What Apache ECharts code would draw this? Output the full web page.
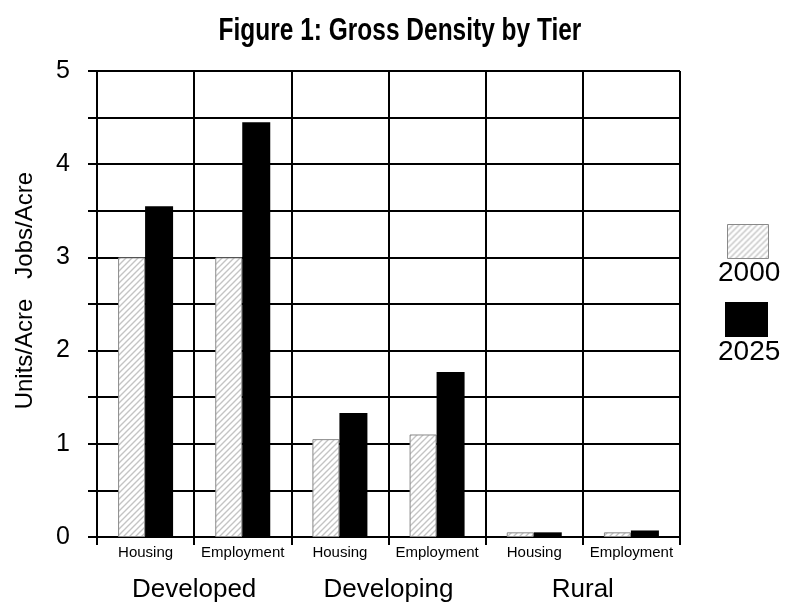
<!DOCTYPE html>
<html><head><meta charset="utf-8">
<script src="https://cdn.jsdelivr.net/npm/echarts@6/dist/echarts.min.js"></script>
<style>html,body{margin:0;padding:0;background:#fff}#c{width:800px;height:603px}</style>
</head><body><div id="c"></div>
<script>
const titleText = 'Figure 1: Gross Density by Tier';
const categories = ['Housing','Employment','Housing','Employment','Housing','Employment'];
const tiers = ['Developed','Developing','Rural'];
const values2000 = [3.0, 3.0, 1.05, 1.1, 0.05, 0.05];
const values2025 = [3.55, 4.45, 1.33, 1.77, 0.05, 0.07];
const yTicks = [0,1,2,3,4,5];
const seriesNames = ['2000','2025'];

function hatch(){
  const c = document.createElement('canvas');
  c.width = 6; c.height = 6;
  const g = c.getContext('2d');
  g.fillStyle = '#fff'; g.fillRect(0,0,6,6);
  g.strokeStyle = '#c4c4c4'; g.lineWidth = 1.4;
  g.beginPath();
  g.moveTo(-1,7); g.lineTo(7,-1);
  g.moveTo(-4,4); g.lineTo(4,-4);
  g.moveTo(2,10); g.lineTo(10,2);
  g.stroke();
  return c;
}
const pat = {image: hatch(), repeat: 'repeat'};
const F = 'Liberation Sans, Arial, sans-serif';

const chart = echarts.init(document.getElementById('c'), null, {renderer:'canvas'});
chart.setOption({
  animation: false,
  backgroundColor: '#fff',
  grid: {left: 97, right: 120, top: 71, bottom: 63},
  xAxis: [{
    type: 'category', data: categories, position: 'bottom',
    axisLine: {lineStyle: {color: '#000', width: 2}},
    axisTick: {show: true, length: 8, lineStyle: {color: '#000', width: 2}},
    splitLine: {show: true, interval: 0, lineStyle: {color: '#000', width: 2}},
    axisLabel: {interval: 0, margin: 8, fontFamily: F, fontSize: 15, color: '#000'}
  },{
    type: 'category', data: tiers, position: 'bottom', offset: 32,
    axisLine: {show: false}, axisTick: {show: false},
    axisLabel: {interval: 0, fontFamily: F, fontSize: 26, color: '#000'}
  }],
  yAxis: {
    type: 'value', min: 0, max: 5, interval: 0.5,
    name: '    Units/Acre   Jobs/Acre', nameLocation: 'middle', nameGap: 60,
    nameTextStyle: {fontFamily: F, fontSize: 24, color: '#000'},
    axisLine: {show: true, lineStyle: {color: '#000', width: 2}},
    axisTick: {show: true, length: 9, lineStyle: {color: '#000', width: 2}},
    splitLine: {show: true, lineStyle: {color: '#000', width: 2}},
    axisLabel: {margin: 27, fontFamily: F, fontSize: 25, color: '#000',
      formatter: v => yTicks.includes(v) ? String(v) : ''}
  },
  series: [{
    name: seriesNames[0], type: 'bar', data: values2000, barWidth: 27, barGap: '0%',
    itemStyle: {color: pat, borderColor: '#8a8a8a', borderWidth: 1}
  },{
    name: seriesNames[1], type: 'bar', data: values2025, barWidth: 28, barGap: '0%',
    itemStyle: {color: '#000'}
  }],
  graphic: [
    {type: 'text', x: 400, y: 15, scaleX: 0.765,
      style: {text: titleText, font: 'bold 32px ' + F, fill: '#000', textAlign: 'center'}},
    {type: 'rect', left: 727, top: 224, shape: {width: 41, height: 34},
      style: {fill: pat, stroke: '#8a8a8a', lineWidth: 1}},
    {type: 'text', left: 718, top: 259, style: {text: seriesNames[0], font: '28px ' + F, fill: '#000'}},
    {type: 'rect', left: 725, top: 302, shape: {width: 43, height: 35}, style: {fill: '#000'}},
    {type: 'text', left: 718, top: 338, style: {text: seriesNames[1], font: '28px ' + F, fill: '#000'}}
  ]
});
</script></body></html>
